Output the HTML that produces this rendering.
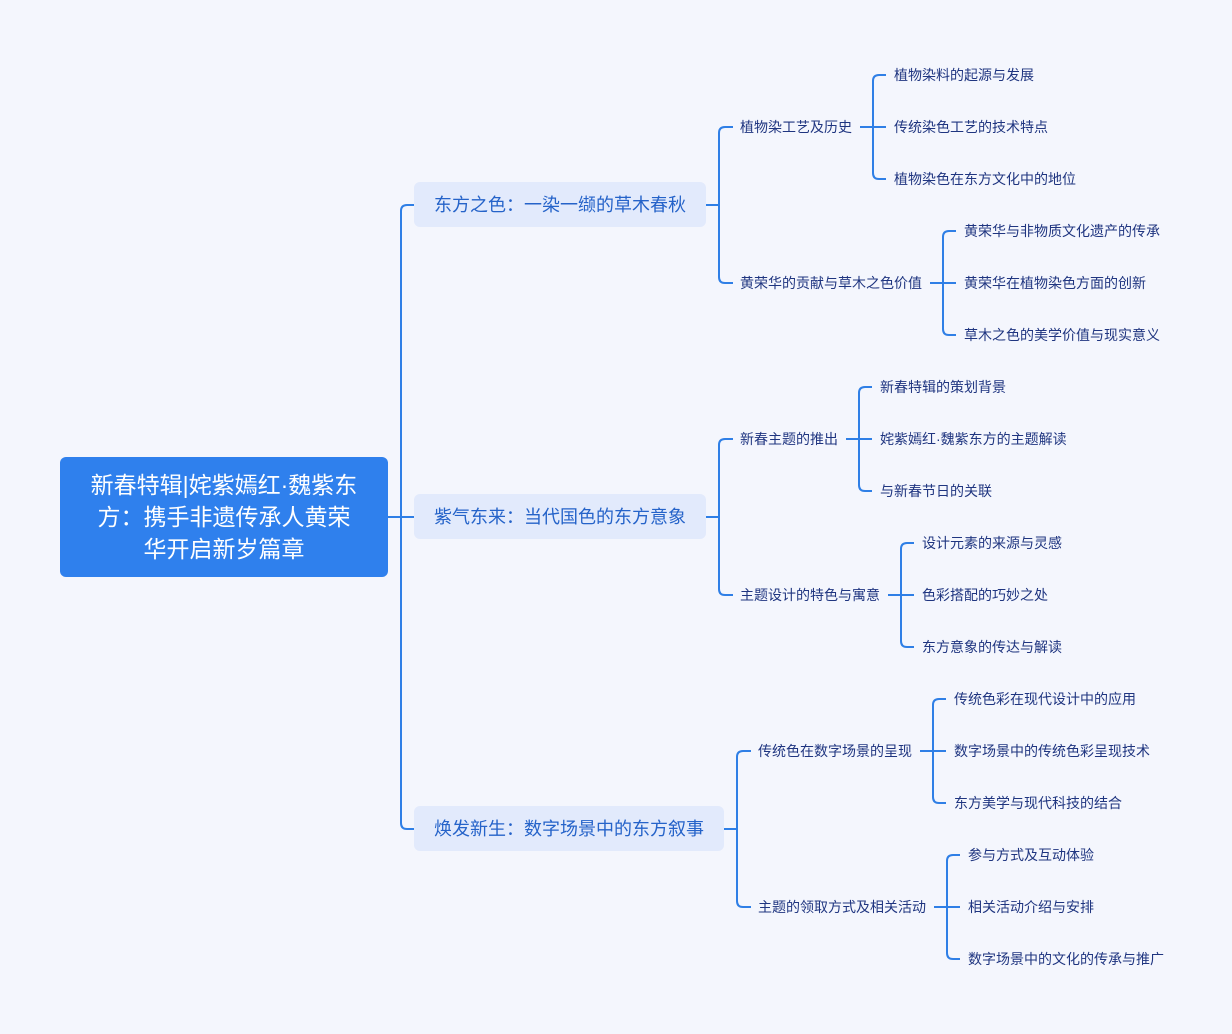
<!DOCTYPE html>
<html><head><meta charset="utf-8"><style>
body{margin:0;background:#f4f6fd;}
svg{display:block}
text{font-family:"Liberation Sans","Noto Sans CJK SC",sans-serif;}
.l2{font-size:14px;fill:#1f3580;dominant-baseline:central}
.l1{font-size:18px;fill:#2563c9;dominant-baseline:central;text-anchor:middle}
.r{font-size:23px;fill:#fff;dominant-baseline:central;text-anchor:middle}
path{fill:none;stroke:#2f7fe6;stroke-width:2}
</style></head><body>
<svg width="1232" height="1034" viewBox="0 0 1232 1034">
<rect width="1232" height="1034" fill="#f4f6fd"/>
<!-- root connectors -->
<path d="M388 517H401M414 205H407Q401 205 401 211V823Q401 829 407 829H414M401 517H414"/>
<rect x="60" y="457" width="328" height="120" rx="6" fill="#2f80ed"/>
<text class="r" x="224" y="485">新春特辑|姹紫嫣红·魏紫东</text>
<text class="r" x="224" y="517">方：携手非遗传承人黄荣</text>
<text class="r" x="224" y="549">华开启新岁篇章</text>
<rect x="414" y="182" width="292" height="45" rx="6" fill="#e2eafc"/>
<text class="l1" x="560" y="205">东方之色：一染一缬的草木春秋</text>
<rect x="414" y="494" width="292" height="45" rx="6" fill="#e2eafc"/>
<text class="l1" x="560" y="517">紫气东来：当代国色的东方意象</text>
<rect x="414" y="806" width="310" height="45" rx="6" fill="#e2eafc"/>
<text class="l1" x="569" y="829">焕发新生：数字场景中的东方叙事</text>
<!-- L1 -> L2 -->
<path d="M706 205H719M733 127H725Q719 127 719 133V277Q719 283 725 283H733"/>
<path d="M706 517H719M733 439H725Q719 439 719 445V589Q719 595 725 595H733"/>
<path d="M724 829H737M751 751H743Q737 751 737 757V901Q737 907 743 907H751"/>
<text class="l2" x="740" y="127">植物染工艺及历史</text>
<text class="l2" x="740" y="283">黄荣华的贡献与草木之色价值</text>
<text class="l2" x="740" y="439">新春主题的推出</text>
<text class="l2" x="740" y="595">主题设计的特色与寓意</text>
<text class="l2" x="758" y="751">传统色在数字场景的呈现</text>
<text class="l2" x="758" y="907">主题的领取方式及相关活动</text>
<!-- L2 -> L3 -->
<path d="M860 127H886M886 75H879Q873 75 873 81V173Q873 179 879 179H886"/>
<path d="M930 283H956M956 231H949Q943 231 943 237V329Q943 335 949 335H956"/>
<path d="M846 439H872M872 387H865Q859 387 859 393V485Q859 491 865 491H872"/>
<path d="M888 595H914M914 543H907Q901 543 901 549V641Q901 647 907 647H914"/>
<path d="M920 751H946M946 699H939Q933 699 933 705V797Q933 803 939 803H946"/>
<path d="M934 907H960M960 855H953Q947 855 947 861V953Q947 959 953 959H960"/>
<text class="l2" x="894" y="75">植物染料的起源与发展</text>
<text class="l2" x="894" y="127">传统染色工艺的技术特点</text>
<text class="l2" x="894" y="179">植物染色在东方文化中的地位</text>
<text class="l2" x="964" y="231">黄荣华与非物质文化遗产的传承</text>
<text class="l2" x="964" y="283">黄荣华在植物染色方面的创新</text>
<text class="l2" x="964" y="335">草木之色的美学价值与现实意义</text>
<text class="l2" x="880" y="387">新春特辑的策划背景</text>
<text class="l2" x="880" y="439">姹紫嫣红·魏紫东方的主题解读</text>
<text class="l2" x="880" y="491">与新春节日的关联</text>
<text class="l2" x="922" y="543">设计元素的来源与灵感</text>
<text class="l2" x="922" y="595">色彩搭配的巧妙之处</text>
<text class="l2" x="922" y="647">东方意象的传达与解读</text>
<text class="l2" x="954" y="699">传统色彩在现代设计中的应用</text>
<text class="l2" x="954" y="751">数字场景中的传统色彩呈现技术</text>
<text class="l2" x="954" y="803">东方美学与现代科技的结合</text>
<text class="l2" x="968" y="855">参与方式及互动体验</text>
<text class="l2" x="968" y="907">相关活动介绍与安排</text>
<text class="l2" x="968" y="959">数字场景中的文化的传承与推广</text>
</svg>
</body></html>
